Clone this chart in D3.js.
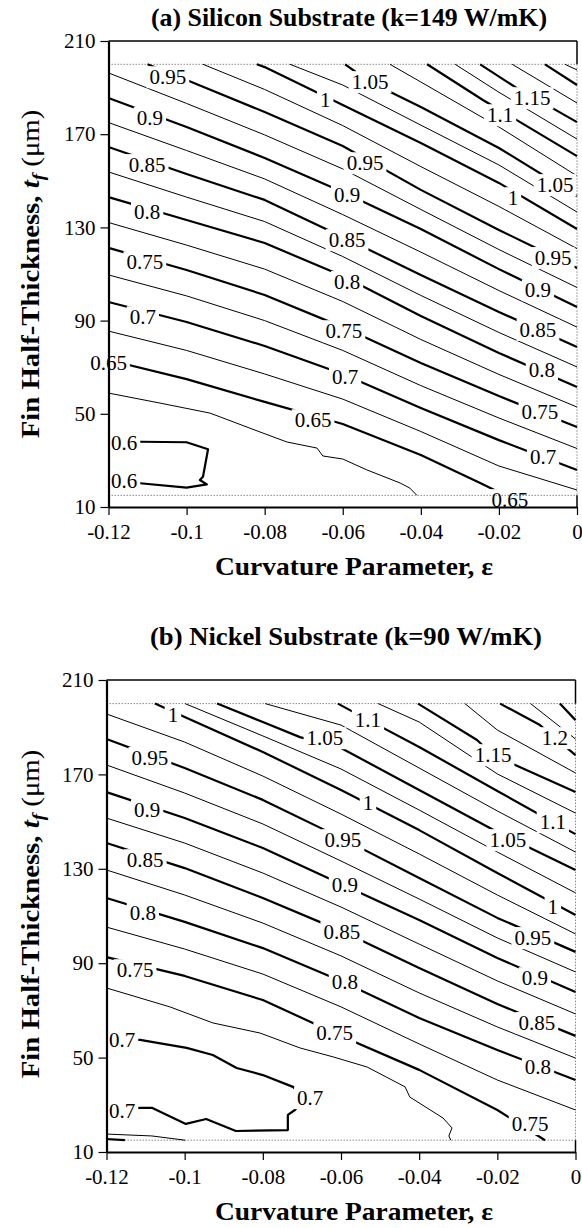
<!DOCTYPE html>
<html>
<head>
<meta charset="utf-8">
<script src="https://cdn.jsdelivr.net/npm/d3@7"></script>
<style>
  body { margin: 0; background: #fff; }
  svg text { font-family: "Liberation Serif", "Times New Roman", Times, serif; fill: #000; }
</style>
</head>
<body>
<svg id="chart" width="582" height="1228"></svg>
<script>
// ---- data ----
const epsTicks = [-0.12, -0.1, -0.08, -0.06, -0.04, -0.02, 0];
const tTicks = [10, 50, 90, 130, 170, 210];
const tRegion = [15, 200];   // computed region of t_f (dotted box)

// contour lines, points are [epsilon, t_f]
const siliconContours = [
  {level: 0.6, pts: [[-0.12,37.9],[-0.1119,38],[-0.1,37.8],[-0.0945,34.8],[-0.0958,23],[-0.0966,21.6],[-0.0948,19.7],[-0.1,18.3],[-0.1119,20.2],[-0.12,21.1]]},
  {level: 0.625, pts: [[-0.12,58.9],[-0.1068,54.6],[-0.094,50.3],[-0.0812,42.2],[-0.0743,37.9],[-0.0666,35.3],[-0.0651,31.9],[-0.06,30.6],[-0.0538,25.9],[-0.0453,20.3],[-0.0428,18.1],[-0.041,15]]},
  {level: 0.65, pts: [[-0.12,73.1],[-0.1,64.9],[-0.08,55.1],[-0.06,45.6],[-0.04,32.3],[-0.0248,20.3],[-0.0184,15]]},
  {level: 0.675, pts: [[-0.12,85.5],[-0.1,77.2],[-0.08,67.1],[-0.06,56.3],[-0.04,42.4],[-0.02,27.6],[0,17.3]]},
  {level: 0.7, pts: [[-0.12,98],[-0.1,89.4],[-0.08,79.1],[-0.06,67.1],[-0.04,52.5],[-0.02,38.7],[0,25.9]]},
  {level: 0.725, pts: [[-0.12,109.6],[-0.1,100.6],[-0.08,90],[-0.06,77.2],[-0.04,62.1],[-0.02,48.2],[0,35.1]]},
  {level: 0.75, pts: [[-0.12,121.2],[-0.1,111.7],[-0.08,101],[-0.06,87.2],[-0.04,71.8],[-0.02,57.6],[0,44.3]]},
  {level: 0.775, pts: [[-0.12,132.1],[-0.1,122.4],[-0.08,112.1],[-0.06,98.2],[-0.04,81.9],[-0.02,66.9],[0,52.9]]},
  {level: 0.8, pts: [[-0.12,143],[-0.1,133.2],[-0.08,123.3],[-0.06,109.1],[-0.04,92],[-0.02,76.1],[0,61.5]]},
  {level: 0.825, pts: [[-0.12,153.8],[-0.1,143],[-0.08,132.5],[-0.06,117.5],[-0.04,100.8],[-0.02,84.9],[0,70.1]]},
  {level: 0.85, pts: [[-0.12,164.5],[-0.1,152.9],[-0.08,141.8],[-0.06,125.9],[-0.04,109.6],[-0.02,93.7],[0,78.7]]},
  {level: 0.875, pts: [[-0.12,175],[-0.1,163],[-0.08,150.8],[-0.06,135.5],[-0.04,119.4],[-0.02,102.9],[0,87.2]]},
  {level: 0.9, pts: [[-0.12,185.5],[-0.1,173.1],[-0.08,159.8],[-0.06,145.2],[-0.04,129.3],[-0.02,112.1],[0,95.8]]},
  {level: 0.925, pts: [[-0.12,196.3],[-0.1,183.2],[-0.08,169.7],[-0.06,155.1],[-0.04,137.7],[-0.02,120.5],[0,104.2]]},
  {level: 0.95, pts: [[-0.11,200],[-0.1,193.3],[-0.08,179.5],[-0.06,164.9],[-0.04,146.1],[-0.02,128.9],[0,112.6]]},
  {level: 0.975, pts: [[-0.0958,200],[-0.08,189.2],[-0.06,173.7],[-0.04,156.1],[-0.02,139],[0,120.9]]},
  {level: 1.0, pts: [[-0.082,200],[-0.08,198.8],[-0.06,182.5],[-0.04,166.2],[-0.02,149.1],[0,129.3]]},
  {level: 1.025, pts: [[-0.0735,200],[-0.06,191.1],[-0.04,173.9],[-0.02,156.8],[0,136.6]]},
  {level: 1.05, pts: [[-0.0594,200],[-0.053,192.4],[-0.04,181.7],[-0.02,164.1],[0,143.5]]},
  {level: 1.075, pts: [[-0.0479,200],[-0.04,192.4],[-0.02,173.1],[0,152.1]]},
  {level: 1.1, pts: [[-0.0384,200],[-0.0241,184.7],[-0.0151,175.7],[0,160.6]]},
  {level: 1.125, pts: [[-0.0312,200],[-0.02,188],[0,167.9]]},
  {level: 1.15, pts: [[-0.0248,200],[-0.0115,185.5],[-0.0082,183],[0,175.2]]},
  {level: 1.175, pts: [[-0.0166,200],[0,183.4]]},
  {level: 1.2, pts: [[-0.0082,200],[0,191.1]]},
  {level: 1.225, pts: [[-0.0031,200],[0,197.6]]}
];

// [text, epsilon, t_f]
const siliconLabels = [
  ["0.95",-0.1048,194.5],["0.9",-0.1094,177],["0.85",-0.1101,156.8],["0.8",-0.1101,136.6],
  ["0.75",-0.1107,115.1],["0.7",-0.1112,91.5],["0.65",-0.12,71.8],["0.6",-0.116,37.5],["0.6",-0.116,21.1],
  ["1",-0.0645,184.7],["1.05",-0.053,192.4],["0.95",-0.0543,157.6],["0.9",-0.0589,143.9],
  ["0.85",-0.0589,124.6],["0.8",-0.0589,106.6],["0.75",-0.0597,85.5],["0.7",-0.0594,65.8],["0.65",-0.0676,47.3],
  ["1.15",-0.0115,185.5],["1.1",-0.0197,178.2],["1.05",-0.0056,148.2],["1",-0.0164,142.6],
  ["0.95",-0.0061,116.9],["0.9",-0.01,103.1],["0.85",-0.01,86],["0.8",-0.009,68.8],
  ["0.75",-0.0095,50.8],["0.7",-0.0087,31.5],["0.65",-0.0172,13]
];

const nickelContours = [
  {level: 0.7, pts: [[-0.12,57.5],[-0.1114,57.5],[-0.0995,54.1],[-0.0928,51.1],[-0.0867,45.6],[-0.08,42.6],[-0.0723,37.6],[-0.0692,32.9],[-0.0718,27.8],[-0.0736,25.7],[-0.0736,19.3],[-0.0869,18.9],[-0.0945,24],[-0.0997,21.9],[-0.1084,28.7],[-0.1114,28.7],[-0.12,27.8]]},
  {level: 0.725, pts: [[-0.12,79.5],[-0.1038,71.5],[-0.0928,64.7],[-0.0807,60.4],[-0.0705,54.1],[-0.062,50.3],[-0.0533,46],[-0.0436,37.6],[-0.0424,33.3],[-0.0339,24.4],[-0.0316,20.2],[-0.0324,16.8],[-0.0319,15]]},
  {level: 0.725, pts: [[-0.12,17.6],[-0.1084,16.8],[-0.0999,15]]},
  {level: 0.75, pts: [[-0.12,92.6],[-0.1,84.6],[-0.08,74.4],[-0.06,59.2],[-0.04,44.8],[-0.02,27.8],[-0.0078,15]]},
  {level: 0.75, pts: [[-0.12,15.5],[-0.1153,15]]},
  {level: 0.775, pts: [[-0.12,105.3],[-0.1,96],[-0.08,85.4],[-0.06,71.5],[-0.04,55.8],[-0.02,40.5],[0,27.8]]},
  {level: 0.8, pts: [[-0.12,117.6],[-0.1,107.5],[-0.08,96.4],[-0.06,82.5],[-0.04,66.8],[-0.02,53.2],[0,40.5]]},
  {level: 0.825, pts: [[-0.12,129.5],[-0.1,118.9],[-0.08,107],[-0.06,93.1],[-0.04,77.4],[-0.02,63],[0,49.8]]},
  {level: 0.85, pts: [[-0.12,140.9],[-0.1,130.3],[-0.08,117.6],[-0.06,103.7],[-0.04,88],[-0.02,72.7],[0,59.2]]},
  {level: 0.875, pts: [[-0.12,151.5],[-0.1,140.9],[-0.08,128.2],[-0.06,113.8],[-0.04,98.1],[-0.02,82.5],[0,68.5]]},
  {level: 0.9, pts: [[-0.12,162.5],[-0.1,151.5],[-0.08,138.8],[-0.06,123.6],[-0.04,108.3],[-0.02,92.2],[0,77.8]]},
  {level: 0.925, pts: [[-0.12,174],[-0.1,162.1],[-0.08,149],[-0.06,133.3],[-0.04,117.2],[-0.02,100.7],[0,86.3]]},
  {level: 0.95, pts: [[-0.12,185],[-0.1,172.7],[-0.08,159.2],[-0.06,143.1],[-0.04,126.1],[-0.02,109.2],[0,94.8]]},
  {level: 0.975, pts: [[-0.12,195.6],[-0.1,183.7],[-0.08,169.3],[-0.06,153.2],[-0.04,136.3],[-0.02,118.9],[0,102.4]]},
  {level: 1.0, pts: [[-0.1076,200],[-0.1,194.3],[-0.08,179.5],[-0.06,163.4],[-0.04,146.4],[-0.02,128.2],[0,110.4]]},
  {level: 1.025, pts: [[-0.0999,200],[-0.08,186.3],[-0.06,172.3],[-0.04,154.9],[-0.02,137.1],[0,119.8]]},
  {level: 1.05, pts: [[-0.0917,200],[-0.08,192.2],[-0.0705,185.8],[-0.06,181.2],[-0.04,163.4],[-0.02,145.6],[0,129.5]]},
  {level: 1.075, pts: [[-0.0794,200],[-0.06,190.9],[-0.04,172.7],[-0.02,154.5],[0,137.1]]},
  {level: 1.1, pts: [[-0.0608,200],[-0.0531,193.1],[-0.04,181.6],[-0.02,163],[-0.0058,149.8],[0,144.7]]},
  {level: 1.125, pts: [[-0.0505,200],[-0.04,192.2],[-0.02,170.2],[0,153.6]]},
  {level: 1.15, pts: [[-0.0403,200],[-0.0252,184.6],[-0.0211,178.2],[0,162.5]]},
  {level: 1.175, pts: [[-0.0283,200],[-0.02,188.8],[0,170.6]]},
  {level: 1.2, pts: [[-0.0193,200],[-0.0091,190.9],[0,178.2]]},
  {level: 1.225, pts: [[-0.0115,200],[0,185]]},
  {level: 1.25, pts: [[-0.004,200],[0,193]]}
];

const nickelLabels = [
  ["1",-0.103,195.2],["0.95",-0.1089,177],["0.9",-0.1096,154.9],["0.85",-0.1101,133.7],
  ["0.8",-0.1107,111.3],["0.75",-0.1127,87.1],["0.7",-0.116,57.5],["0.7",-0.116,27.4],
  ["1.1",-0.0531,193.1],["1.05",-0.0641,185.4],["1",-0.0531,157.9],["0.95",-0.0595,142.2],
  ["0.9",-0.059,123.1],["0.85",-0.0598,103.2],["0.8",-0.059,82],["0.75",-0.0616,60.4],["0.7",-0.0679,32.9],
  ["1.2",-0.0053,185.4],["1.15",-0.0211,178.2],["1.1",-0.0058,149.8],["1.05",-0.0173,142.2],
  ["1",-0.0058,113.8],["0.95",-0.0109,100.7],["0.9",-0.0104,83.7],["0.85",-0.0099,64.7],
  ["0.8",-0.0096,46],["0.75",-0.0116,21.9]
];

// ---- drawing ----
const serif = "'Liberation Serif', 'Times New Roman', Times, serif";
const svg = d3.select("#chart");
const defs = svg.append("defs");

function isMajor(level) {
  return Math.abs(level * 20 - Math.round(level * 20)) < 1e-6;
}

function drawPanel(p) {
  const x = d3.scaleLinear().domain([-0.12, 0]).range([p.left, p.right]);
  const y = d3.scaleLinear().domain([10, 210]).range([p.bottom, p.top]);
  const g = svg.append("g");

  // panel title
  g.append("text")
    .attr("x", p.titleX).attr("y", p.titleY)
    .attr("text-anchor", "middle")
    .attr("font-size", 25).attr("font-weight", "bold")
    .attr("textLength", p.titleLen).attr("lengthAdjust", "spacingAndGlyphs")
    .style("font-family", serif)
    .text(p.title);

  // dotted boundary of the computed region
  const dot = g.append("g")
    .attr("stroke", "#8a8a8a").attr("stroke-width", 1)
    .attr("stroke-dasharray", "1.5,1.5").attr("fill", "none");
  dot.append("line").attr("x1", x(-0.12)).attr("x2", x(0))
    .attr("y1", y(tRegion[1])).attr("y2", y(tRegion[1]));
  dot.append("line").attr("x1", x(-0.12)).attr("x2", x(0))
    .attr("y1", y(tRegion[0])).attr("y2", y(tRegion[0]));
  dot.append("line").attr("x1", x(0)).attr("x2", x(0))
    .attr("y1", y(tRegion[1])).attr("y2", y(tRegion[0]));

  // frame pieces
  const frame = g.append("g").attr("stroke", "#000").attr("fill", "none");
  frame.append("line").attr("x1", x(-0.12)).attr("x2", x(0))
    .attr("y1", y(210)).attr("y2", y(210)).attr("stroke-width", 1.5);
  frame.append("line").attr("x1", x(0)).attr("x2", x(0))
    .attr("y1", y(210)).attr("y2", y(tRegion[1])).attr("stroke-width", 1.5);
  frame.append("line").attr("x1", x(0)).attr("x2", x(0))
    .attr("y1", y(tRegion[0])).attr("y2", y(10)).attr("stroke-width", 1.5);

  // mask so contour lines break around their labels
  const mask = defs.append("mask").attr("id", "gap-" + p.id)
    .attr("maskUnits", "userSpaceOnUse")
    .attr("x", 0).attr("y", 0).attr("width", 582).attr("height", 1228);
  mask.append("rect").attr("width", 582).attr("height", 1228).attr("fill", "#fff");

  const lineGen = d3.line().x(d => x(d[0])).y(d => y(d[1]));
  g.append("g").attr("mask", "url(#gap-" + p.id + ")")
    .selectAll("path").data(p.contours).join("path")
    .attr("d", d => lineGen(d.pts))
    .attr("fill", "none").attr("stroke", "#000")
    .attr("stroke-linejoin", "round")
    .attr("stroke-width", d => isMajor(d.level) ? 2.2 : 1);

  const labelG = g.append("g");
  p.labels.forEach(l => {
    const txt = labelG.append("text")
      .attr("x", x(l[1])).attr("y", y(l[2]))
      .attr("dy", "0.34em")
      .attr("text-anchor", "middle")
      .attr("font-size", 21)
      .style("font-family", serif)
      .text(l[0]);
    const b = txt.node().getBBox();
    mask.append("rect")
      .attr("x", b.x - 3).attr("y", b.y + 1)
      .attr("width", b.width + 6).attr("height", b.height - 2)
      .attr("fill", "#000");
  });

  // axes
  const xAxis = d3.axisBottom(x).tickValues(epsTicks)
    .tickFormat(d => String(d)).tickSize(8).tickSizeOuter(0).tickPadding(9);
  const gx = g.append("g").attr("transform", "translate(0," + y(10) + ")").call(xAxis);
  gx.select(".domain").attr("stroke-width", 2.2);
  gx.selectAll(".tick line").attr("stroke-width", 1.2);
  gx.selectAll("text").attr("font-size", 21).style("font-family", serif);

  const yAxis = d3.axisLeft(y).tickValues(tTicks)
    .tickSize(8).tickSizeOuter(0).tickPadding(5);
  const gy = g.append("g").attr("transform", "translate(" + x(-0.12) + ",0)").call(yAxis);
  gy.select(".domain").attr("stroke-width", 2.2);
  gy.selectAll(".tick line").attr("stroke-width", 1.2);
  gy.selectAll("text").attr("font-size", 21).style("font-family", serif);

  // axis titles
  g.append("text")
    .attr("x", 354).attr("y", p.xTitleY)
    .attr("text-anchor", "middle")
    .attr("font-size", 26).attr("font-weight", "bold")
    .attr("textLength", 278).attr("lengthAdjust", "spacingAndGlyphs")
    .style("font-family", serif)
    .text("Curvature Parameter,  \u03b5");

  // rotated title, stretched along its length to the reference width
  const yt = g.append("text")
    .attr("transform", "translate(" + p.yTitleX + "," + p.yTitleCY + ") rotate(-90) scale(1.15,1)")
    .attr("text-anchor", "middle")
    .attr("font-size", 25).attr("font-weight", "bold")
    .style("font-family", serif);
  yt.append("tspan").text("Fin Half-Thickness, ");
  yt.append("tspan").attr("font-style", "italic").text("t");
  yt.append("tspan").attr("font-style", "italic").attr("font-size", 17)
    .attr("dy", 5).text("f");
  yt.append("tspan").attr("dy", -5).attr("font-weight", "normal").text(" (\u03bcm)");
}

drawPanel({
  id: "a", left: 108.5, right: 577, top: 41, bottom: 507,
  title: "(a) Silicon Substrate (k=149 W/mK)", titleX: 349, titleY: 26, titleLen: 396,
  xTitleY: 575, yTitleX: 39, yTitleCY: 274,
  contours: siliconContours, labels: siliconLabels
});

drawPanel({
  id: "b", left: 106.5, right: 575.5, top: 680, bottom: 1152,
  title: "(b) Nickel Substrate (k=90 W/mK)", titleX: 346, titleY: 645, titleLen: 392,
  xTitleY: 1220, yTitleX: 39, yTitleCY: 914,
  contours: nickelContours, labels: nickelLabels
});
</script>
</body>
</html>
